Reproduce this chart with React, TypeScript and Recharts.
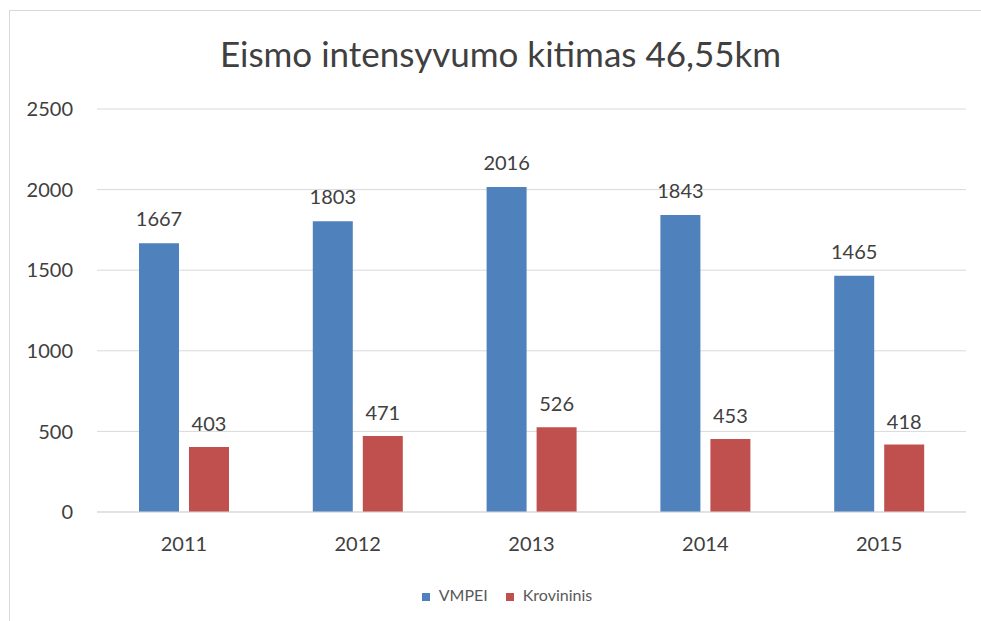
import { Bar, BarChart, CartesianGrid, LabelList, Legend, XAxis, YAxis } from "recharts";

const years = ["2011", "2012", "2013", "2014", "2015"];
const vmpei = [1667, 1803, 2016, 1843, 1465];
const krovininis = [403, 471, 526, 453, 418];
const yTicks = [0, 500, 1000, 1500, 2000, 2500];
const seriesOrder = ["VMPEI", "Krovininis"];

const data = years.map((year, i) => ({ year, VMPEI: vmpei[i], Krovininis: krovininis[i] }));

const FONT = "Lato, 'Open Sans', sans-serif";
const TEXT = "#404040";

export default function App() {
  return (
    <div style={{ position: "absolute", left: 0, top: 0, width: 981, height: 621, overflow: "hidden", background: "#fff", fontFamily: FONT }}>
      <div style={{ position: "absolute", left: 9, top: 10, width: 1100, height: 800, border: "1px solid #d9d9d9" }} />
      <div style={{ position: "absolute", left: 10, top: 32, width: 981, textAlign: "center", fontSize: 35, color: TEXT }}>
        Eismo intensyvumo kitimas 46,55km
      </div>
      <BarChart
        width={981}
        height={621}
        data={data}
        margin={{ top: 109, right: 15, left: 10, bottom: 17 }}
        barSize={40}
        barGap={10}
        style={{ position: "absolute", left: 0, top: 0 }}
      >
        <CartesianGrid vertical={false} stroke="#d9d9d9" />
        <XAxis
          dataKey="year"
          height={73}
          tickLine={false}
          axisLine={{ stroke: "#d9d9d9" }}
          tickSize={0}
          tickMargin={25}
          tick={{ fontSize: 20, fill: TEXT, fontFamily: FONT }}
        />
        <YAxis
          width={87}
          domain={[0, 2500]}
          ticks={yTicks}
          tickLine={false}
          axisLine={false}
          tickSize={0}
          tickMargin={24}
          tick={{ fontSize: 20, fill: TEXT, fontFamily: FONT }}
        />
        <Legend
          verticalAlign="bottom"
          align="center"
          iconType="square"
          iconSize={8}
          wrapperStyle={{ paddingLeft: 28 }}
          itemSorter={(item: any) => seriesOrder.indexOf(item.value)}
          formatter={(value) => (
            <span style={{ color: "#595959", fontSize: 16, fontFamily: FONT, marginLeft: 5, marginRight: 8 }}>{value}</span>
          )}
        />
        <Bar dataKey="VMPEI" fill="#4f81bd" isAnimationActive={false}>
          <LabelList dataKey="VMPEI" position="top" offset={17} style={{ fontSize: 20, fill: TEXT, fontFamily: FONT }} />
        </Bar>
        <Bar dataKey="Krovininis" fill="#c0504d" isAnimationActive={false}>
          <LabelList dataKey="Krovininis" position="top" offset={16} style={{ fontSize: 20, fill: TEXT, fontFamily: FONT }} />
        </Bar>
      </BarChart>
    </div>
  );
}
